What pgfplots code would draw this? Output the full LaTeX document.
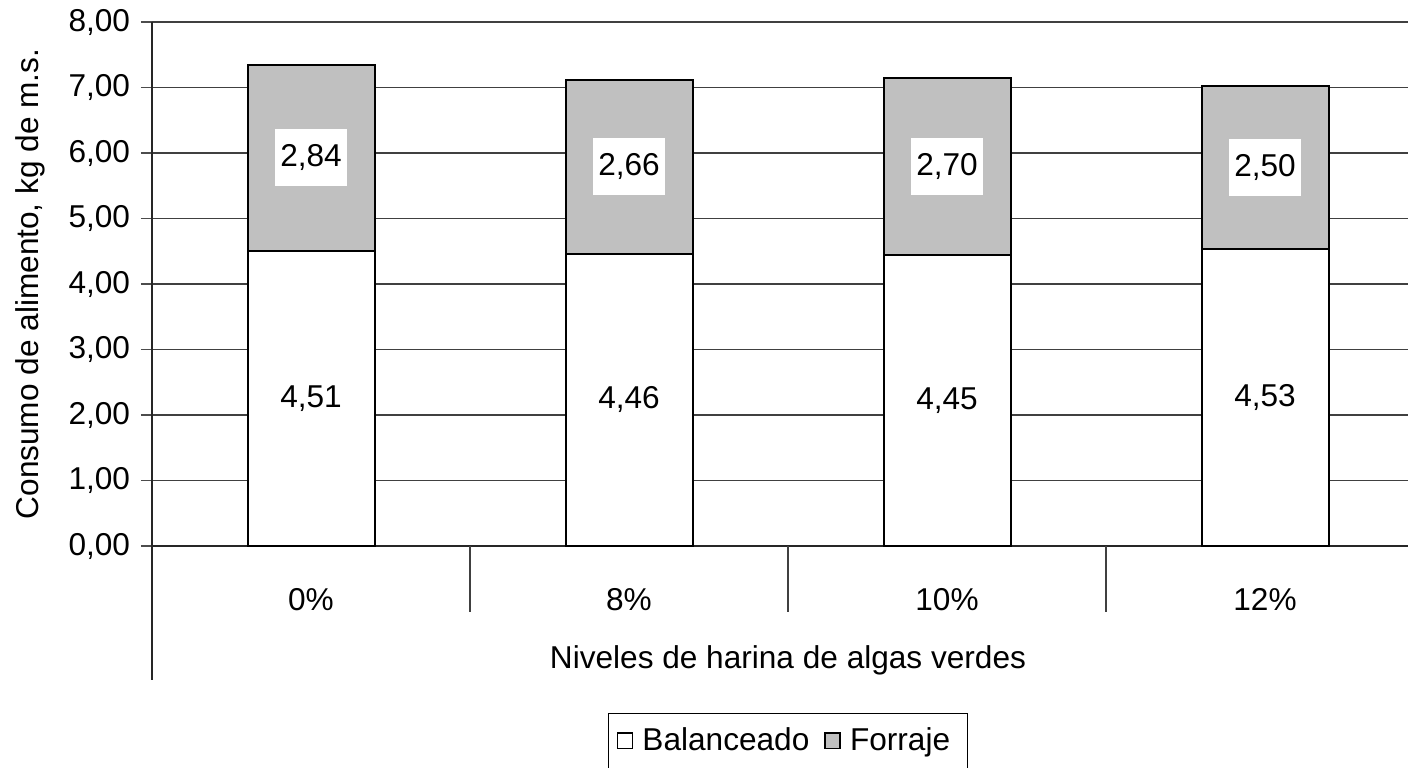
\documentclass[border=0pt]{standalone}
\usepackage{fontspec}
\setmainfont{Liberation Sans}
\usepackage{pgfplots}
\usepackage{pgfplotstable}
\pgfplotsset{compat=1.18}

\definecolor{forraje}{HTML}{C0C0C0}
\newcommand\chartfont{\fontsize{15.8}{19}\selectfont}

% Consumo de alimento (kg de m.s.) por nivel de harina de algas verdes
\pgfplotstableread{
x bal forr
0 4.51 2.84
1 4.46 2.66
2 4.45 2.70
3 4.53 2.50
}\consumo

\pgfplotsset{
  comun/.style={
    at={(76pt,110.5pt)}, anchor=south west,
    scale only axis, width=628pt, height=262pt,
    xmin=-0.5, xmax=3.4497, ymin=0, ymax=8,
    /pgf/number format/.cd, use comma, fixed, fixed zerofill, precision=2,
      1000 sep={}, assume math mode=true,
    /pgfplots/.cd,
  },
  cuadro/.style={legend image code/.code={
    \draw[##1, line width=0.8pt] (0pt,-3.6pt) rectangle (7.5pt,4.2pt);}},
}

\begin{document}
\chartfont
\begin{tikzpicture}[font=\chartfont]
\useasboundingbox (0,0) rectangle (704pt,383.5pt);
\begin{axis}[comun,
  ybar stacked, bar width=63.5pt,
  axis x line=bottom, axis y line=left,
  axis line style={-, black!85, line width=0.9pt},
  ymajorgrids, major grid style={black!75, line width=0.6pt},
  ytick={0,1,...,8}, ytick align=outside, major tick length=5.5pt,
  y tick style={black!70, line width=0.7pt},
  xtick={0,1,2,3}, xticklabels={0\%,8\%,10\%,12\%},
  x tick style={draw=none},
  x tick label style={anchor=center, yshift=-24pt},
  every axis x label/.style={at={(axis cs:1.5,0)}, anchor=center, yshift=-57pt},
  every axis y label/.style={at={([xshift=-61pt]axis description cs:0,0.5)}, rotate=90, anchor=center},
  xlabel={Niveles de harina de algas verdes},
  ylabel={Consumo de alimento, kg de m.s.},
  legend columns=2,
  legend style={at={(axis cs:1.5,0)}, anchor=north, yshift=-83.5pt,
    draw=black, line width=0.6pt, font=\chartfont,
    inner xsep=4pt, inner ysep=5pt,
    /tikz/every even column/.append style={column sep=3pt},
    nodes={inner xsep=4.5pt}},
  clip=false,
]
\addplot[fill=white, draw=black, line width=1pt, cuadro] table[x=x, y=bal] {\consumo};
\addlegendentry{Balanceado}
\addplot[fill=forraje, draw=black, line width=1pt, cuadro] table[x=x, y=forr] {\consumo};
\addlegendentry{Forraje}
% separadores de categorias bajo el eje
\draw[black!85, line width=0.6pt] (axis cs:-0.5,0) -- ([yshift=-67pt]axis cs:-0.5,0);
\draw[black!75, line width=0.6pt] (axis cs:0.5,0) -- ([yshift=-33pt]axis cs:0.5,0);
\draw[black!75, line width=0.6pt] (axis cs:1.5,0) -- ([yshift=-33pt]axis cs:1.5,0);
\draw[black!75, line width=0.6pt] (axis cs:2.5,0) -- ([yshift=-33pt]axis cs:2.5,0);
\end{axis}
% etiquetas de valor centradas en cada segmento
\begin{axis}[comun, hide axis,
  nodes near coords, point meta=explicit,
  every node near coord/.append style={anchor=center, fill=white, text=black,
    inner xsep=2.4pt, inner ysep=0pt, minimum height=28.5pt, font=\chartfont},
]
\addplot[draw=none, mark=none] table[x=x, y expr=\thisrow{bal}/2, meta=bal] {\consumo};
\addplot[draw=none, mark=none] table[x=x, y expr=\thisrow{bal}+\thisrow{forr}/2, meta=forr] {\consumo};
\end{axis}
\end{tikzpicture}
\end{document}
